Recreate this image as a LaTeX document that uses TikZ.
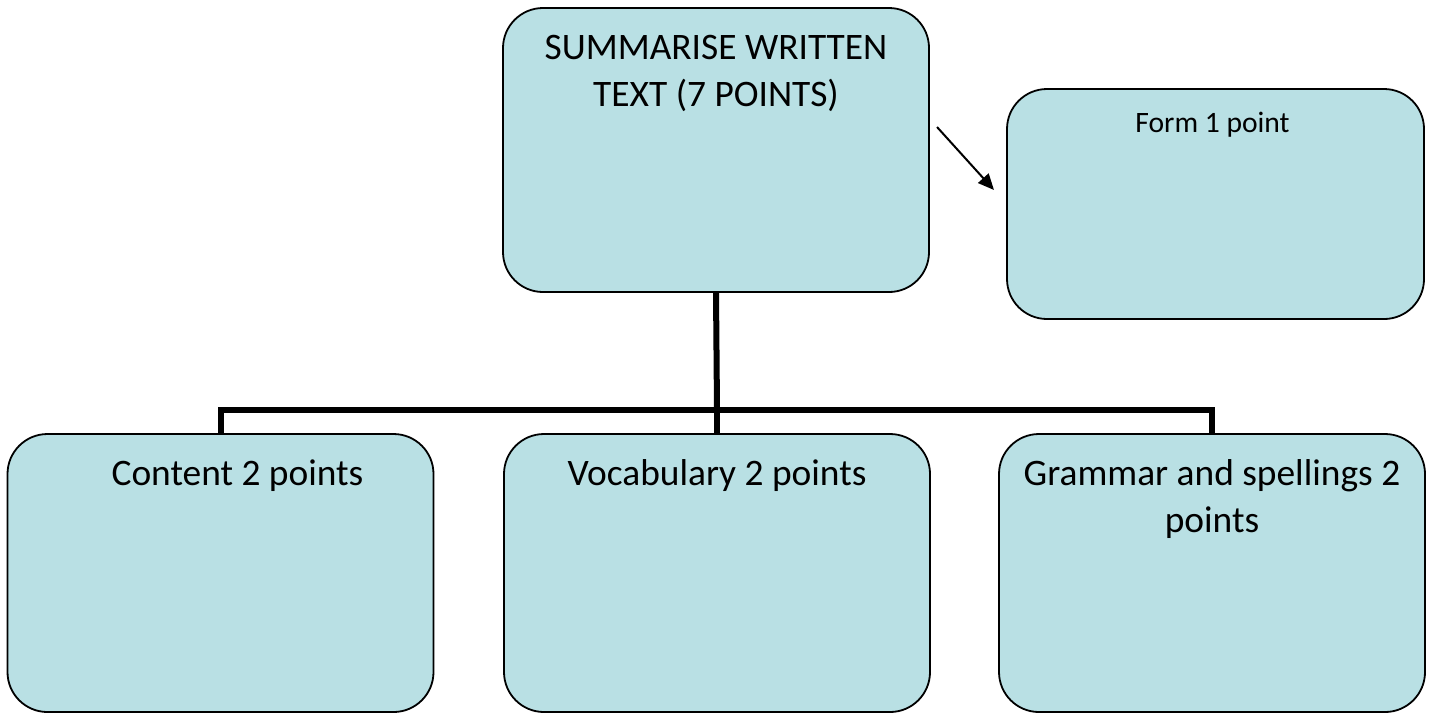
\documentclass[tikz,border=0pt]{standalone}
\usepackage{fontspec}
\setmainfont{Carlito}
\usetikzlibrary{positioning,arrows.meta}
\definecolor{boxfill}{HTML}{B9E0E4}

\begin{document}
\begin{tikzpicture}[x=0.5pt,y=-0.5pt,
    box/.style={draw, line width=0.9pt, fill=boxfill, rounded corners=20pt,
      minimum width=213pt, inner sep=0pt},
    txt/.style={inner sep=0pt, align=center, font=\fontsize{18.7}{23.5}\selectfont},
    link/.style={line width=3pt, line join=miter},
    pointer/.style={line width=1pt, -{Triangle[length=8pt,width=7pt]}}]

  \useasboundingbox (0,0) rectangle (1433,714);

  % Boxes
  \node[box, minimum height=142pt] (summ) at (716,150) {};
  \node[box, minimum width=208.5pt, minimum height=115pt] (form) at (1215.5,204) {};
  \node[box, minimum height=139pt] (content) at (220.5,573) {};
  \node[box, minimum height=139pt] (vocab) at (717,573) {};
  \node[box, minimum height=139pt] (grammar) at (1212,573) {};

  % Texts
  \node[txt, below=14pt of summ.north] (summtxt) {SUMMARISE WRITTEN\\TEXT (7 POINTS)};
  \node[txt, font=\fontsize{14.8}{18}\selectfont, below=12pt of form.north, xshift=-1.5pt] (formtxt) {Form 1 point};
  \node[txt, below=13pt of content.north, xshift=8.5pt] (contenttxt) {Content 2 points};
  \node[txt, below=13pt of vocab.north] (vocabtxt) {Vocabulary 2 points};
  \node[txt, below=13pt of grammar.north] (grammartxt) {Grammar and spellings 2\\points};

  % Tree
  \coordinate (hub) at (717,410);
  \draw[link] (summ.south) -- (hub);
  \draw[link] (content.north) |- (hub) -| (grammar.north);
  \draw[link] (hub) -- (vocab.north);

  % Arrow
  \coordinate (arrtail) at (937,127);
  \coordinate (arrtip) at (994,190);
  \draw[pointer] (arrtail) -- (arrtip);
\end{tikzpicture}
\end{document}
